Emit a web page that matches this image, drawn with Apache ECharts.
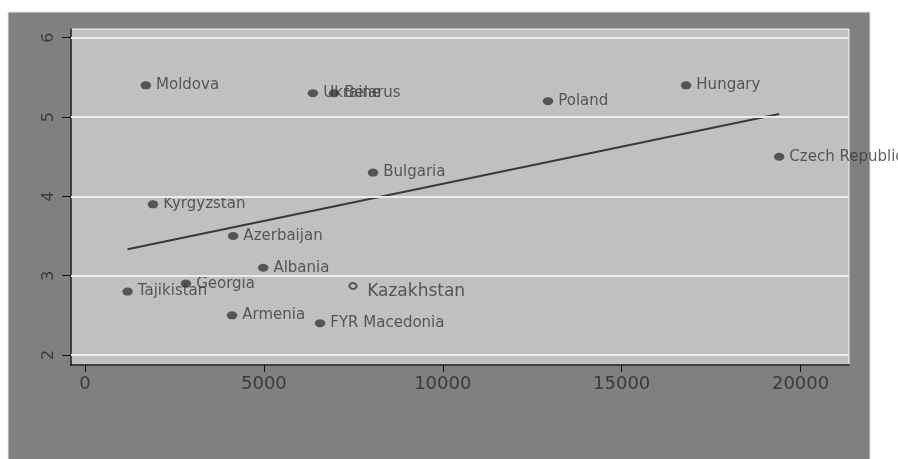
<!DOCTYPE html>
<html>
<head>
<meta charset="utf-8">
<script src="https://cdn.jsdelivr.net/npm/echarts@6/dist/echarts.min.js"></script>
<style>
  html, body { margin: 0; padding: 0; background: #ffffff; }
  #chart { width: 898px; height: 459px; }
</style>
</head>
<body>
<div id="chart"></div>
<script>
// Countries, GDP per capita (x) and score (y)
const countries = ['Moldova', 'Ukraine', 'Belarus', 'Poland', 'Hungary', 'Czech Republic',
  'Bulgaria', 'Kyrgyzstan', 'Azerbaijan', 'Albania', 'Georgia', 'Tajikistan', 'Armenia', 'FYR Macedonia'];
const gdp = [1700, 6370, 6960, 12940, 16800, 19400, 8050, 1900, 4140, 4980, 2820, 1190, 4110, 6570];
const score = [5.4, 5.3, 5.3, 5.2, 5.4, 4.5, 4.3, 3.9, 3.5, 3.1, 2.9, 2.8, 2.5, 2.4];

// Highlighted country drawn with a hollow marker
const hiName = 'Kazakhstan';
const hiGdp = 7490;
const hiScore = 2.87;

// Fitted line end points
const fitX = [1190, 19400];
const fitY = [3.334, 5.038];

// Axis ticks
const xTicks = [0, 5000, 10000, 15000, 20000];
const yTicks = [2, 3, 4, 5, 6];

const ink = '#3a3a3a';
const font = 'DejaVu Sans';
const ellipse = 'path://M10 5A5 5 0 1 1 0 5A5 5 0 1 1 10 5Z';

const chart = echarts.init(document.getElementById('chart'), null, { renderer: 'canvas' });

chart.setOption({
  backgroundColor: '#ffffff',
  animation: false,
  graphic: [
    { type: 'rect', z: -10, shape: { x: 8, y: 12, width: 862, height: 460 },
      style: { fill: '#808080', stroke: '#e4e4e4', lineWidth: 1 } }
  ],
  grid: {
    left: 71, top: 29, right: 49, bottom: 94,
    show: true, backgroundColor: '#c0c0c0', borderColor: '#f4f4f4', borderWidth: 1
  },
  xAxis: {
    type: 'value', min: -391, max: 21353,
    axisLine: { show: true, onZero: false, lineStyle: { color: '#111111', width: 1.5 } },
    axisTick: { show: true, length: 7, lineStyle: { color: '#111111' }, customValues: xTicks },
    axisLabel: { customValues: xTicks, formatter: v => String(v),
      color: ink, fontFamily: font, fontSize: 18, margin: 10 },
    splitLine: { show: false }
  },
  yAxis: {
    type: 'value', min: 1.874, max: 6.11,
    axisLine: { show: true, onZero: false, lineStyle: { color: '#111111', width: 1.5 } },
    axisTick: { show: true, length: 9, lineStyle: { color: '#111111' }, customValues: yTicks },
    axisLabel: { customValues: yTicks, formatter: v => String(v), rotate: 90,
      color: ink, fontFamily: font, fontSize: 16, margin: 14 },
    splitLine: { show: false }
  },
  series: [
    {
      // horizontal grid lines at the y ticks
      type: 'scatter', data: [], z: 1, silent: true,
      markLine: {
        silent: true, symbol: 'none', label: { show: false }, animation: false,
        lineStyle: { color: '#ececec', width: 2, type: 'solid' },
        data: yTicks.map(v => ({ yAxis: v }))
      }
    },
    {
      type: 'line', z: 3, symbol: 'none',
      lineStyle: { color: ink, width: 2 },
      data: fitX.map((x, i) => [x, fitY[i]])
    },
    {
      type: 'scatter', z: 4,
      symbol: ellipse, symbolSize: [10.5, 8],
      itemStyle: { color: ink },
      label: { show: true, position: 'right', distance: 5, formatter: '{b}',
        color: ink, fontFamily: font, fontSize: 15 },
      data: countries.map((c, i) => ({ name: c, value: [gdp[i], score[i]] }))
    },
    {
      type: 'scatter', z: 4,
      symbol: ellipse, symbolSize: [7, 6],
      itemStyle: { color: 'none', borderColor: ink, borderWidth: 2 },
      label: { show: true, position: 'right', distance: 8, offset: [0, 6], formatter: '{b}',
        color: ink, fontFamily: font, fontSize: 17 },
      data: [{ name: hiName, value: [hiGdp, hiScore] }]
    }
  ]
});
</script>
</body>
</html>
